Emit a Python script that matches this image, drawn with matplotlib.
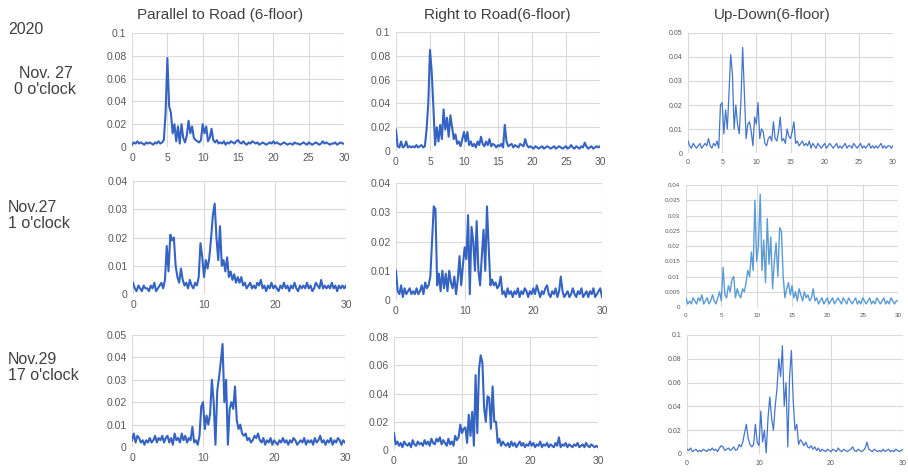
import numpy as np
import matplotlib.pyplot as plt

# frequency axis (Hz), 0.25 Hz steps
freq = np.arange(121) * 0.25

# spectra amplitudes, in units of 1e-3
par_1127_00 = [
    2, 4, 3, 5, 3, 4, 3, 2, 4, 3,
    4, 3, 2, 4, 3, 5, 3, 4, 6, 30,
    78, 36, 30, 12, 20, 5, 18, 3, 20, 8,
    4, 10, 23, 12, 18, 8, 6, 5, 4, 6,
    20, 12, 18, 5, 8, 16, 6, 4, 6, 3,
    4, 3, 5, 2, 4, 3, 5, 4, 3, 5,
    6, 4, 3, 5, 3, 2, 4, 3, 5, 4,
    3, 4, 2, 3, 4, 3, 2, 3, 4, 3,
    5, 3, 4, 3, 2, 3, 4, 3, 2, 3,
    3, 2, 4, 3, 3, 2, 3, 4, 3, 2,
    4, 3, 2, 3, 4, 3, 2, 3, 5, 3,
    4, 3, 2, 3, 3, 4, 2, 3, 4, 3,
    3]
rgt_1127_00 = [
    18, 4, 3, 8, 3, 4, 8, 3, 4, 3,
    4, 3, 5, 3, 4, 5, 3, 4, 18, 40,
    85, 67, 37, 5, 20, 8, 22, 10, 35, 18,
    28, 12, 30, 20, 10, 14, 6, 8, 4, 10,
    16, 8, 16, 5, 8, 4, 6, 3, 8, 5,
    12, 6, 4, 8, 5, 10, 4, 6, 5, 3,
    5, 4, 6, 3, 22, 8, 4, 5, 6, 3,
    5, 4, 3, 6, 5, 4, 10, 5, 3, 4,
    3, 2, 4, 3, 2, 3, 4, 2, 3, 4,
    3, 2, 3, 4, 2, 3, 4, 3, 2, 3,
    4, 2, 3, 5, 3, 2, 4, 3, 2, 4,
    3, 7, 4, 2, 3, 4, 2, 3, 4, 3,
    4]
ud_1127_00 = [
    5, 3, 2, 4, 3, 2, 3, 4, 2, 3,
    4, 3, 6, 3, 2, 4, 3, 5, 2, 20,
    21, 8, 18, 10, 25, 41, 33, 10, 20, 12,
    8, 22, 44, 25, 6, 12, 13, 9, 3, 15,
    12, 21, 6, 10, 9, 4, 3, 6, 7, 5,
    13, 6, 5, 9, 15, 5, 6, 4, 10, 7,
    6, 9, 13, 4, 5, 3, 4, 5, 3, 4,
    3, 5, 2, 4, 3, 2, 4, 3, 2, 3,
    4, 2, 3, 4, 3, 2, 3, 4, 2, 3,
    2, 3, 4, 2, 3, 3, 2, 4, 3, 2,
    3, 4, 2, 3, 2, 3, 4, 2, 3, 2,
    3, 2, 3, 4, 2, 3, 2, 3, 3, 2,
    3]
par_1127_01 = [
    4, 2, 1, 3, 2, 1, 3, 2, 2, 1,
    3, 2, 4, 1, 2, 3, 4, 2, 5, 17,
    8, 21, 19, 20, 10, 6, 4, 9, 5, 3,
    4, 2, 5, 3, 2, 4, 3, 6, 18, 13,
    6, 12, 9, 13, 20, 28, 32, 20, 12, 24,
    10, 12, 8, 13, 6, 8, 5, 7, 4, 6,
    4, 6, 3, 4, 2, 3, 4, 2, 3, 2,
    4, 3, 5, 2, 3, 1, 3, 2, 4, 2,
    3, 2, 1, 3, 2, 4, 2, 3, 1, 3,
    2, 4, 2, 1, 3, 2, 3, 2, 4, 2,
    3, 1, 2, 4, 3, 2, 5, 2, 3, 2,
    3, 2, 4, 2, 3, 1, 3, 2, 3, 2,
    3]
rgt_1127_01 = [
    10, 3, 2, 5, 1, 4, 2, 3, 4, 2,
    3, 2, 4, 2, 3, 5, 2, 6, 4, 5,
    8, 20, 32, 31, 5, 9, 3, 10, 4, 9,
    3, 10, 6, 4, 8, 2, 7, 15, 5, 12,
    18, 14, 29, 2, 25, 20, 10, 27, 10, 5,
    15, 24, 10, 32, 18, 5, 7, 5, 6, 4,
    5, 8, 2, 3, 1, 4, 2, 3, 1, 3,
    2, 4, 1, 3, 2, 4, 3, 1, 3, 2,
    4, 2, 5, 3, 1, 3, 2, 4, 5, 2,
    1, 3, 2, 4, 1, 3, 8, 3, 1, 2,
    3, 1, 2, 4, 2, 1, 3, 2, 4, 1,
    2, 3, 1, 3, 2, 4, 1, 2, 3, 4,
    1]
ud_1127_01 = [
    3, 1, 2, 1, 3, 2, 1, 3, 2, 4,
    1, 2, 3, 1, 2, 4, 2, 1, 3, 5,
    2, 13, 4, 3, 7, 5, 9, 10, 3, 6,
    4, 3, 6, 5, 8, 12, 10, 18, 12, 35,
    15, 20, 37, 12, 22, 8, 29, 14, 23, 6,
    15, 21, 10, 26, 25, 10, 3, 6, 8, 4,
    7, 3, 5, 2, 6, 4, 2, 5, 3, 4,
    2, 3, 6, 2, 3, 1, 2, 3, 1, 2,
    3, 1, 2, 3, 1, 2, 3, 2, 1, 3,
    2, 1, 3, 2, 1, 2, 3, 1, 2, 1,
    3, 2, 1, 2, 3, 1, 2, 1, 3, 2,
    1, 2, 3, 1, 2, 1, 3, 2, 1, 2,
    2]
par_1129_17 = [
    3, 6, 2, 5, 4, 2, 3, 1, 3, 2,
    4, 2, 3, 5, 2, 4, 3, 5, 2, 4,
    5, 2, 4, 1, 6, 3, 4, 2, 6, 3,
    5, 2, 4, 3, 9, 2, 3, 1, 5, 18,
    20, 8, 14, 10, 15, 30, 20, 1, 25, 31,
    38, 46, 20, 30, 1, 17, 20, 17, 27, 12,
    8, 10, 6, 5, 6, 3, 4, 2, 3, 5,
    4, 6, 3, 2, 4, 1, 3, 2, 4, 1,
    3, 2, 1, 3, 2, 4, 2, 3, 1, 3,
    2, 4, 3, 1, 2, 3, 2, 4, 1, 3,
    2, 3, 1, 4, 2, 3, 5, 2, 3, 1,
    3, 2, 4, 1, 3, 2, 4, 3, 1, 3,
    2]
rgt_1129_17 = [
    12, 4, 6, 3, 5, 2, 6, 4, 3, 5,
    2, 7, 4, 3, 6, 4, 5, 3, 7, 4,
    6, 3, 8, 5, 4, 8, 6, 9, 4, 7,
    5, 3, 8, 4, 6, 3, 10, 7, 9, 18,
    12, 15, 16, 5, 25, 10, 27, 3, 53, 12,
    57, 67, 62, 30, 20, 38, 37, 15, 45, 20,
    20, 5, 8, 3, 6, 4, 3, 5, 2, 6,
    3, 5, 2, 4, 6, 3, 5, 2, 4, 3,
    6, 3, 5, 2, 4, 3, 6, 2, 4, 3,
    5, 2, 4, 3, 2, 5, 3, 9, 2, 4,
    3, 5, 2, 4, 3, 2, 4, 3, 5, 2,
    3, 4, 2, 5, 3, 2, 4, 3, 2, 3,
    2]
ud_1129_17 = [
    4, 3, 5, 2, 3, 4, 2, 3, 2, 4,
    3, 2, 4, 3, 5, 3, 4, 2, 5, 7,
    6, 3, 4, 5, 3, 4, 6, 3, 4, 8,
    6, 10, 18, 25, 13, 8, 6, 8, 25, 10,
    7, 36, 10, 20, 1, 30, 48, 30, 20, 40,
    55, 80, 65, 91, 40, 60, 6, 65, 87, 45,
    20, 25, 8, 12, 10, 7, 10, 6, 5, 7,
    4, 6, 3, 5, 2, 4, 3, 2, 4, 3,
    2, 4, 3, 2, 5, 3, 2, 4, 3, 2,
    3, 4, 6, 3, 2, 4, 3, 2, 3, 5,
    10, 4, 3, 2, 4, 3, 2, 3, 2, 4,
    2, 3, 4, 2, 3, 2, 4, 3, 2, 3,
    4]

col_titles = ["Parallel to Road (6-floor)", "Right to Road(6-floor)", "Up-Down(6-floor)"]
row_labels = ["Nov. 27\n0 o'clock", "Nov.27\n1 o'clock", "Nov.29\n17 o'clock"]

# (data, axes rect, ymax, ystep, ytick labels, xstep, colour, linewidth, tick fontsize)
panels = [
    (par_1127_00, [0.1454, 0.6899, 0.2335, 0.2405], 0.1, 0.02,
     ["0", "0.02", "0.04", "0.06", "0.08", "0.1"], 5, "#3563c2", 1.5, 7.5),
    (rgt_1127_00, [0.4361, 0.6814, 0.2247, 0.2510], 0.1, 0.02,
     ["0", "0.02", "0.04", "0.06", "0.08", "0.1"], 5, "#3563c2", 1.5, 7.5),
    (ud_1127_00, [0.7577, 0.6772, 0.2258, 0.2532], 0.05, 0.01,
     ["0", "0.01", "0.02", "0.03", "0.04", "0.05"], 5, "#4475cc", 0.9, 5),
    (par_1127_01, [0.1465, 0.3797, 0.2346, 0.2384], 0.04, 0.01,
     ["0", "0.01", "0.02", "0.03", "0.04"], 10, "#3563c2", 1.5, 7.5),
    (rgt_1127_01, [0.4361, 0.3671, 0.2269, 0.2468], 0.04, 0.01,
     ["0", "0.01", "0.02", "0.03", "0.04"], 10, "#3563c2", 1.5, 7.5),
    (ud_1127_01, [0.7555, 0.3523, 0.2335, 0.2574], 0.04, 0.005,
     ["0", "0.005", "0.01", "0.015", "0.02", "0.025", "0.03", "0.035", "0.04"],
     5, "#5b9bd5", 1.0, 4.5),
    (par_1129_17, [0.1454, 0.0570, 0.2346, 0.2363], 0.05, 0.01,
     ["0", "0.01", "0.02", "0.03", "0.04", "0.05"], 10, "#3563c2", 1.5, 7.5),
    (rgt_1129_17, [0.4339, 0.0506, 0.2247, 0.2384], 0.08, 0.02,
     ["0", "0.02", "0.04", "0.06", "0.08"], 10, "#3563c2", 1.5, 7.5),
    (ud_1129_17, [0.7566, 0.0422, 0.2379, 0.2511], 0.1, 0.02,
     ["0", "0.02", "0.04", "0.06", "0.08", "0.1"], 10, "#4475cc", 0.9, 5),
]

plt.rcParams['font.family'] = ['Liberation Sans', 'DejaVu Sans']
fig = plt.figure(figsize=(9.08, 4.74), dpi=100)

for vals, rect, ymax, ystep, ylabs, xstep, color, lw, fs in panels:
    ax = fig.add_axes(rect)
    ax.plot(freq, np.array(vals) * 1e-3, color=color, lw=lw)
    ax.set_xlim(0, 30)
    ax.set_ylim(0, ymax)
    ax.set_xticks(np.arange(0, 31, xstep))
    ax.set_yticks(np.arange(len(ylabs)) * ystep)
    ax.set_yticklabels(ylabs)
    ax.grid(True, color="#d9d9d9", lw=0.8)
    ax.set_axisbelow(True)
    for s in ax.spines.values():
        s.set_visible(False)
    ax.tick_params(length=0, labelsize=fs, labelcolor="#595959", pad=4)

fig.text(0.242, 0.968, col_titles[0], ha="center", va="center", fontsize=11, color="#404040")
fig.text(0.548, 0.968, col_titles[1], ha="center", va="center", fontsize=11, color="#404040")
fig.text(0.851, 0.968, col_titles[2], ha="center", va="center", fontsize=11, color="#404040")

fig.text(0.009, 0.937, "2020", ha="left", va="center", fontsize=11.5, color="#404040")
fig.text(0.050, 0.828, row_labels[0], ha="center", va="center", fontsize=11.5,
         color="#404040", linespacing=1.1)
fig.text(0.009, 0.545, row_labels[1], ha="left", va="center", fontsize=11.5,
         color="#404040", linespacing=1.1)
fig.text(0.009, 0.225, row_labels[2], ha="left", va="center", fontsize=11.5,
         color="#404040", linespacing=1.1)

fig.savefig("out.png", dpi=100)
